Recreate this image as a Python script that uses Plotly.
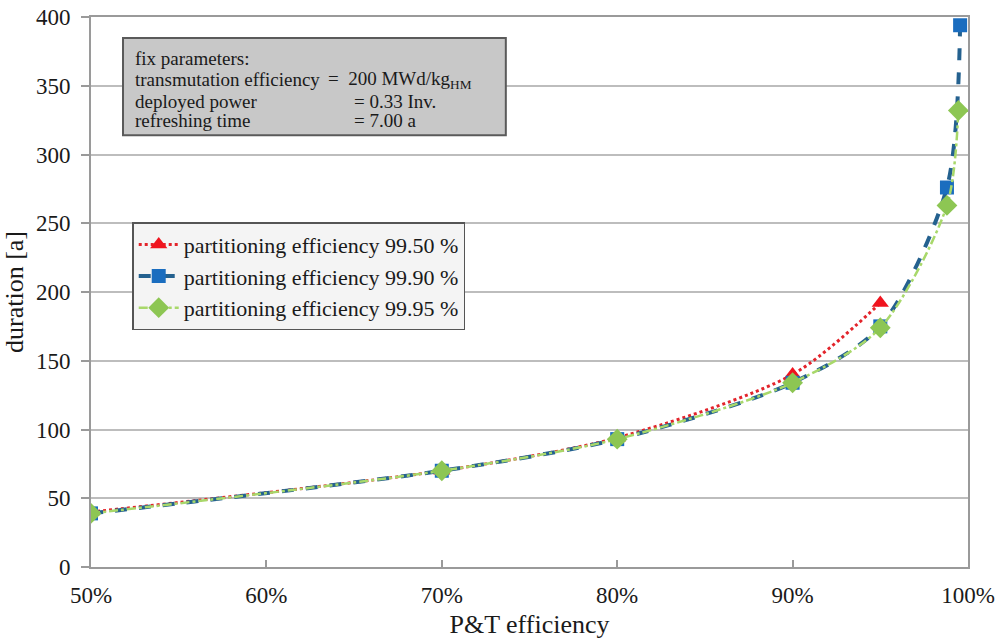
import plotly.graph_objects as go

# P&T efficiency (fraction) and duration [a]
red_x = [0.50, 0.70, 0.80, 0.90, 0.95]
red_y = [40, 70, 94, 140, 192]
blue_x = [0.50, 0.70, 0.80, 0.90, 0.95, 0.988, 0.9955]
blue_y = [39, 70, 93, 134, 175, 276, 394]
green_x = [0.50, 0.70, 0.80, 0.90, 0.95, 0.988, 0.9945]
green_y = [39, 70, 93, 134, 174, 263, 332]

names = ["partitioning efficiency 99.50 %",
         "partitioning efficiency 99.90 %",
         "partitioning efficiency 99.95 %"]

x_ticks = [0.5, 0.6, 0.7, 0.8, 0.9, 1.0]
y_ticks = [0, 50, 100, 150, 200, 250, 300, 350, 400]

FONT = "Liberation Serif"

fig = go.Figure()
fig.add_trace(go.Scatter(
    x=red_x, y=red_y, name=names[0], mode="lines+markers",
    line=dict(color="#E3242B", width=3, dash="dot", shape="spline", smoothing=0.8),
    marker=dict(symbol="triangle-up", size=15, color="#F0141E")))
fig.add_trace(go.Scatter(
    x=blue_x, y=blue_y, name=names[1], mode="lines+markers",
    line=dict(color="#24618F", width=4, dash="dash", shape="spline", smoothing=0.8),
    marker=dict(symbol="square", size=14, color="#1A6DBF")))
fig.add_trace(go.Scatter(
    x=green_x, y=green_y, name=names[2], mode="lines+markers",
    line=dict(color="#A8D86A", width=2.5, dash="dashdot", shape="spline", smoothing=0.8),
    marker=dict(symbol="diamond", size=16, color="#8DC653")))

# parameter box
fig.add_shape(type="rect", xref="paper", yref="paper",
              x0=0.0365, x1=0.473, y0=0.785, y1=0.962,
              fillcolor="#C8C8C8", line=dict(color="#5A5A5A", width=2), layer="above")

left_lines = ["fix parameters:", "transmutation efficiency", "deployed power", "refreshing time"]
right_lines = ["=  200 MWd/kg<sub>HM</sub>", "= 0.33 Inv.", "= 7.00 a"]
right_x = [0.268, 0.298, 0.298]
row_y = [0.925, 0.886, 0.847, 0.812]
for t, yy in zip(left_lines, row_y):
    fig.add_annotation(xref="paper", yref="paper", x=0.048, y=yy, text=t,
                       showarrow=False, xanchor="left", yanchor="middle",
                       font=dict(family=FONT, size=19, color="#1A1A1A"))
for t, xx, yy in zip(right_lines, right_x, row_y[1:]):
    fig.add_annotation(xref="paper", yref="paper", x=xx, y=yy, text=t,
                       showarrow=False, xanchor="left", yanchor="middle",
                       font=dict(family=FONT, size=19, color="#1A1A1A"))

fig.update_layout(
    width=996, height=639,
    margin=dict(l=91, r=28, t=17, b=72, autoexpand=False),
    paper_bgcolor="white", plot_bgcolor="white",
    font=dict(family=FONT, size=20, color="#1A1A1A"),
    showlegend=True,
    legend=dict(x=0.047, y=0.627, xanchor="left", yanchor="top",
                bgcolor="#F4F4F4", bordercolor="#555555", borderwidth=1.5,
                font=dict(family=FONT, size=22, color="#1A1A1A"),
                itemwidth=40, tracegroupgap=0),
)
fig.update_xaxes(
    range=[0.5, 1.0], tickvals=x_ticks, tickformat=".0%",
    showgrid=False, showline=True, linecolor="#9A9A9A", linewidth=2,
    mirror=True, ticks="inside", ticklen=7, tickcolor="#9A9A9A", tickwidth=1.5,
    ticklabelstandoff=6, automargin=False, ticklabeloverflow="allow",
    tickfont=dict(family=FONT, size=23),
    title=dict(text="P&T efficiency", font=dict(family=FONT, size=26), standoff=10),
    zeroline=False)
fig.update_yaxes(
    range=[0, 400], tickvals=y_ticks,
    showgrid=True, gridcolor="#BDBDBD", gridwidth=2,
    showline=True, linecolor="#9A9A9A", linewidth=2, mirror=True,
    ticks="outside", ticklen=8, tickcolor="#9A9A9A", tickwidth=1.5,
    ticklabelstandoff=6, automargin=False, ticklabeloverflow="allow",
    tickfont=dict(family=FONT, size=23),
    title=dict(text="duration [a]", font=dict(family=FONT, size=26), standoff=6),
    zeroline=False)

fig.write_html("out.html")
